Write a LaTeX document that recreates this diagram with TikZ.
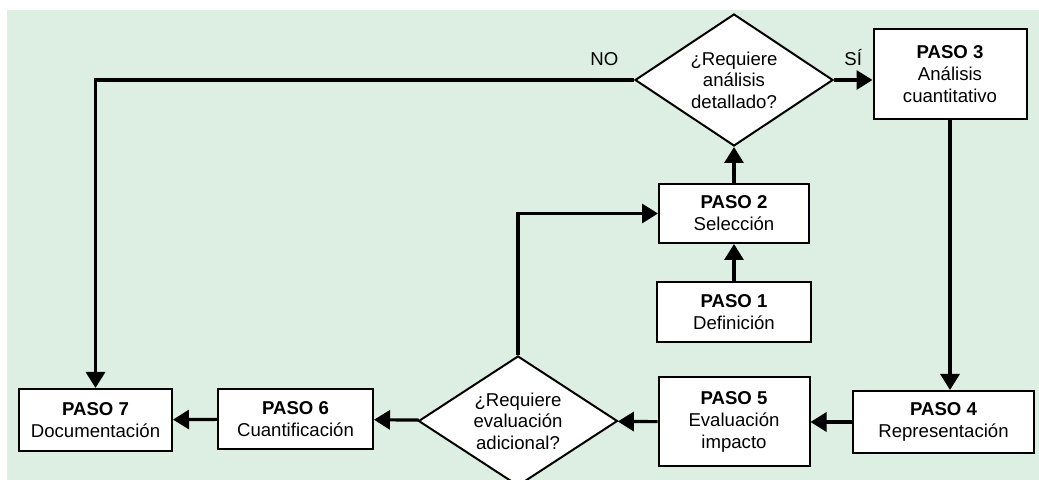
\documentclass[tikz,border=0pt]{standalone}
\usepackage{fontspec}
\setmainfont{Liberation Sans}
\usetikzlibrary{shapes.geometric,arrows.meta}
\definecolor{fondo}{RGB}{221,238,227}
\tikzstyle{pasobox}=[draw,line width=1pt,fill=white,align=center,inner sep=1pt,
  font=\fontsize{9.3}{11}\selectfont]
\tikzstyle{decision}=[draw,diamond,line width=1pt,fill=white,align=center,inner sep=0pt,
  aspect=1.5,font=\fontsize{9.3}{10.8}\selectfont]
\tikzstyle{flecha}=[line width=1.6pt,-{Triangle[length=8pt,width=9.5pt]}]

\begin{document}
\begin{tikzpicture}[x=0.5pt,y=-0.5pt]
    \clip (0,0) rectangle (1039,480);
    \fill[white] (0,0) rectangle (1039,480);
    \fill[fondo] (7,10) rectangle (1039,480);

    \node[decision,minimum width=99pt,minimum height=66pt] (d1) at (734,80) {¿Requiere\\análisis\\detallado?};
    \node[decision,minimum width=99.5pt,minimum height=65pt] (d2) at (518,421) {¿Requiere\\evaluación\\adicional?};

    \node[pasobox,minimum width=77pt,minimum height=30pt] (p1) at (734,312) {\textbf{PASO 1}\\Definición};
    \node[pasobox,minimum width=75pt,minimum height=29.5pt] (p2) at (734,213.5) {\textbf{PASO 2}\\Selección};
    \node[pasobox,minimum width=76.5pt,minimum height=45pt] (p3) at (950,74) {\textbf{PASO 3}\\Análisis\\cuantitativo};
    \node[pasobox,minimum width=90.5pt,minimum height=31pt] (p4) at (943.5,422) {\textbf{PASO 4}\\Representación};
    \node[pasobox,minimum width=75.5pt,minimum height=44.5pt] (p5) at (734,422) {\textbf{PASO 5}\\Evaluación\\impacto};
    \node[pasobox,minimum width=77.5pt,minimum height=30pt] (p6) at (295.5,419) {\textbf{PASO 6}\\Cuantificación};
    \node[pasobox,minimum width=76.5pt,minimum height=31pt] (p7) at (95.5,420) {\textbf{PASO 7}\\Documentación};

    \draw[flecha] (p1) -- (p2);
    \draw[flecha] (p2) -- (d1);
    \draw[flecha] (d1.east) -- node[above=3pt,font=\fontsize{9.3}{11}\selectfont] (si) {SÍ} (p3.west |- d1.east);
    \draw[flecha] (d1.west) -- node[pos=0.055,above=3pt,font=\fontsize{9.3}{11}\selectfont] (no) {NO} (p7.north |- d1.west) -- (p7.north);
    \draw[flecha] (p3.south) -- (p3.south |- p4.north);
    \draw[flecha] (p4) -- (p5);
    \draw[flecha] (p5) -- (d2);
    \draw[flecha] (d2.north) |- (p2.west);
    \draw[flecha] (d2) -- (p6);
    \draw[flecha] (p6) -- (p7);
\end{tikzpicture}
\end{document}
